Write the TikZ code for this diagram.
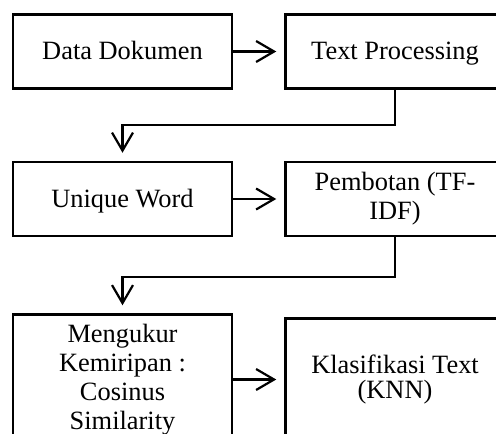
\documentclass[tikz,border=0pt]{standalone}
\usepackage{fontspec}
\setmainfont{Liberation Serif}
\usetikzlibrary{arrows.meta,positioning}

\begin{document}
\begin{tikzpicture}[x=0.5pt, y=-0.5pt, node distance=35.5pt and 25.5pt]
    \tikzset{
      rectnode/.style={rectangle,draw=black,line width=1.25pt,inner sep=2pt,minimum width=109.5pt,minimum height=37pt,align=center,font=\fontsize{13.2}{14.5}\selectfont},
      onelinenode/.style={rectnode,text height=11pt,text depth=3pt},
      tallnode/.style={rectnode,minimum height=65pt},
      arrow/.style={-{Straight Barb[length=9pt,width=10.5pt]},line width=1.1pt,shorten >=4pt}
    }
    \useasboundingbox (0,0) rectangle (496,433);
    \clip (0,0) rectangle (496,433);

    \node[onelinenode] (data) at (122.5,51.5) {Data Dokumen};
    \node[onelinenode,right=of data] (processing) {Text Processing};
    \node[onelinenode,below=of data] (unique) {Unique Word};
    \node[rectnode,right=of unique] (pembotan) {Pembotan (TF-\\IDF)};
    \node[tallnode,below=38pt of unique] (mengukur) {Mengukur\\Kemiripan :\\Cosinus\\Similarity};
    \node[rectnode,minimum height=61pt,font=\fontsize{13.2}{12.3}\selectfont,right=of mengukur] (klasifikasi) {Klasifikasi Text\\(KNN)};

    \draw[arrow](data) -- (processing);
    \draw[arrow](processing.south) -- ++(0,35.5) -| (unique.north);
    \draw[arrow](unique) -- (pembotan);
    \draw[arrow](pembotan.south) -- ++(0,39.5) -| (mengukur.north);
    \draw[arrow](mengukur) -- (klasifikasi);
\end{tikzpicture}
\end{document}
